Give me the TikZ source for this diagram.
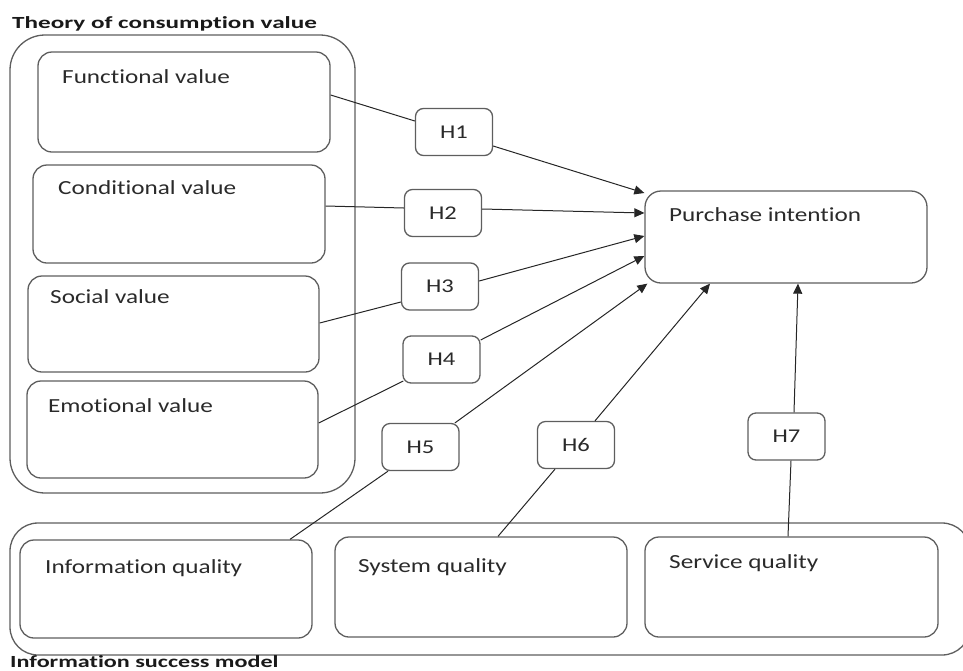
\documentclass[tikz,border=0pt]{standalone}
\usepackage{fontspec}
\usetikzlibrary{arrows.meta,calc}
\newfontfamily\labfont[FakeStretch=1.26,Ligatures=NoCommon]{Carlito}
\newfontfamily\ttlfont[FakeStretch=1.48,Ligatures=NoCommon]{Carlito}
\newfontfamily\ismfont[FakeStretch=1.42,Ligatures=NoCommon]{Carlito}
\definecolor{bordergray}{HTML}{5E5E5E}
\definecolor{linegray}{HTML}{262626}
\definecolor{textgray}{HTML}{2A2A2A}
\tikzset{
  box/.style={draw=bordergray, line width=1.3pt, rounded corners=14pt, inner sep=0pt},
  outerbox/.style={draw=bordergray, line width=1.3pt, inner sep=0pt},
  hbox/.style={draw=bordergray, line width=1.3pt, rounded corners=8pt, minimum width=77pt,
    minimum height=47pt, inner sep=0pt, text=textgray, font=\labfont\fontsize{19.5}{22}\selectfont},
  lbl/.style={text=textgray, font=\labfont\fontsize{20}{24}\selectfont, anchor=base west, inner sep=0pt},
  ttl/.style={text=black!90, font=\bfseries\fontsize{17}{20}\selectfont, anchor=base west, inner sep=0pt},
  conn/.style={draw=linegray, line width=1pt},
  arr/.style={conn, -{Triangle[length=10pt,width=9pt]}}
}
\begin{document}
\begin{tikzpicture}[x=1pt,y=-1pt]
\clip (0,0) rectangle (963,670);
\useasboundingbox (0,0) rectangle (963,670);
% outer group boxes
\node[outerbox, rounded corners=35pt, minimum width=345pt, minimum height=458pt] (tcv) at (182.5,264) {};
\node[outerbox, rounded corners=28pt, minimum width=960pt, minimum height=132pt] (ism) at (490,589) {};
\node[ttl] (tcvlbl) at (12,28) {\ttlfont\bfseries Theory of consumption value};
\node[ttl] (ismlbl) at (10,667) {\ismfont\bfseries Information success model};
% value boxes
\node[box, minimum width=292pt, minimum height=100pt] (fv) at (184,102) {};
\node[box, minimum width=292pt, minimum height=98pt] (cv) at (179,214) {};
\node[box, minimum width=291pt, minimum height=96pt] (sv) at (173.5,324) {};
\node[box, minimum width=291pt, minimum height=97pt] (ev) at (172.5,429.5) {};
\node[lbl] (fvl) at (62,83) {Functional value};
\node[lbl] (cvl) at (58,194) {Conditional value};
\node[lbl] (svl) at (50,303) {Social value};
\node[lbl] (evl) at (48,412) {Emotional value};
% purchase intention
\node[box, rounded corners=16pt, minimum width=282pt, minimum height=92pt] (pi) at (786,237) {};
\node[lbl] (pil) at (669,221) {Purchase intention};
% quality boxes
\node[box, minimum width=292pt, minimum height=98pt] (iq) at (166,589) {};
\node[box, minimum width=292pt, minimum height=100pt] (syq) at (481,587) {};
\node[box, minimum width=293pt, minimum height=100pt] (seq) at (791.5,587) {};
\node[lbl] (iql) at (45,573) {Information quality};
\node[lbl] (syql) at (358,572) {System quality};
\node[lbl] (seql) at (669,568) {Service quality};
% hypothesis boxes
\node[hbox] (h1) at (454,132) {H1};
\node[hbox] (h2) at (443,213) {H2};
\node[hbox] (h3) at (440,286.5) {H3};
\node[hbox] (h4) at (441.5,359.5) {H4};
\node[hbox] (h5) at (420.5,447) {H5};
\node[hbox] (h6) at (576,445) {H6};
\node[hbox] (h7) at (786.5,436.5) {H7};
% connectors
\draw[conn] ($(fv.east)+(0,-7)$) -- ($(h1.west)+(0,-11)$);
\draw[arr] ($(h1.east)+(0,14)$) -- ($(pi.west)+(0,-44)$);
\draw[conn] ($(cv.east)+(0,-8)$) -- ($(h2.west)+(0,-5)$);
\draw[arr] ($(h2.east)+(0,-4)$) -- ($(pi.west)+(0,-24)$);
\draw[conn] ($(sv.east)+(0,-1)$) -- ($(h3.west)+(0,15.5)$);
\draw[arr] ($(h3.east)+(0,-5.5)$) -- ($(pi.west)+(0,-1)$);
\draw[conn] ($(ev.east)+(0,-6.5)$) -- ($(h4.west)+(1,21.5)$);
\draw[arr] ($(h4.east)+(0,-19.5)$) -- ($(pi.west)+(0,19)$);
\draw[conn] ($(iq.north)+(124,0)$) -- ($(h5.south)+(-32.5,0)$);
\draw[arr] ($(h5.north)+(34.5,0)$) -- ($(pi.south west)+(3,0)$);
\draw[conn] ($(syq.north)+(17,0)$) -- ($(h6.south)+(-21,0)$);
\draw[arr] ($(h6.north)+(19,0)$) -- ($(pi.south)+(-76,0)$);
\draw[conn] ($(seq.north)+(-3.5,0)$) -- ($(h7.south)+(4.5,0)$);
\draw[arr] ($(h7.north)+(7.5,0)$) -- ($(pi.south)+(12,0)$);
\end{tikzpicture}
\end{document}
